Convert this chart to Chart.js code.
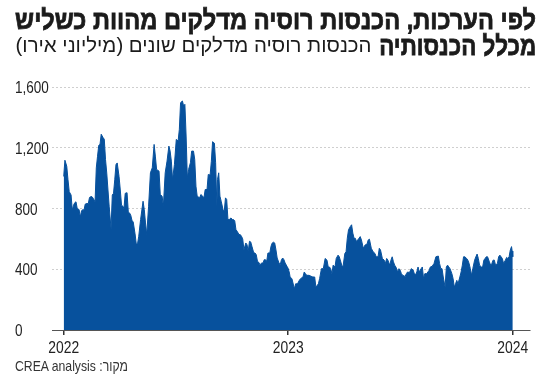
<!DOCTYPE html>
<html><head><meta charset="utf-8">
<script src="https://cdn.jsdelivr.net/npm/chart.js@4"></script>
<style>
html,body{margin:0;padding:0;background:#fff;}
#wrap{position:relative;width:550px;height:380px;overflow:hidden;background:#fff;}
#c{position:absolute;left:0;top:0;}
.t{position:absolute;direction:rtl;white-space:nowrap;color:#1b1b1b;font-family:"Liberation Sans","DejaVu Sans",sans-serif;line-height:1;transform-origin:100% 50%;}
.bold{font-size:27px;font-weight:700;-webkit-text-stroke:0.8px #1b1b1b;}
#t1{top:7px;right:14px;}
#t2{top:33px;right:14px;}
#t3{top:35px;right:178px;font-size:20px;font-weight:400;}
#src{position:absolute;left:15px;top:358px;direction:rtl;font-family:"Liberation Sans",sans-serif;font-size:15px;line-height:1;color:#333;white-space:nowrap;transform-origin:0 50%;}
</style></head>
<body><div id="wrap">
<canvas id="c" width="550" height="380"></canvas>
<div class="t bold" id="t1">לפי הערכות, הכנסות רוסיה מדלקים מהוות כשליש</div>
<div class="t bold" id="t2">מכלל הכנסותיה</div>
<div class="t" id="t3">הכנסות רוסיה מדלקים שונים (מיליוני אירו)</div>
<div id="src">מקור: CREA analysis</div>
</div>
<script>
// days since 1 Jan 2022
const days = [
 0,2,5,7,9,12,14,16,18,20,22,25,27,29,31,33,35,38,40,42,44,46,48,51,
 53,55,57,59,61,64,66,68,70,72,74,77,79,81,83,85,87,90,92,94,96,98,100,103,105,107,109,111,113,116,118,120,122,
 125,129,131,133,135,138,141,144,147,149,151,155,157,160,162,165,168,171,173,175,177,180,183,186,188,190,193,195,197,199,201,
 203,206,208,211,213,215,217,221,223,226,228,230,233,235,238,240,242,245,247,249,250,252,254,256,259,261,263,265,267,269,272,274,276,278,280,282,285,287,289,291,293,296,298,300,
 302,304,306,309,311,313,315,317,319,322,324,326,328,330,332,335,337,339,341,343,345,347,350,352,354,356,358,360,363,365,367,368,371,375,377,380,383,385,389,391,
 393,395,399,402,405,408,410,414,416,419,422,425,428,430,432,434,436,438,441,443,446,448,452,454,457,459,461,463,466,468,470,472,474,476,480,482,484,487,490,493,495,497,500,
 503,506,508,511,513,515,518,521,523,525,527,530,532,534,536,538,540,543,545,547,549,551,555,557,559,562,565,568,570,572,574,576,578,581,583,585,587,590,594,596,599,602,
 605,609,611,613,615,617,620,622,624,626,628,631,633,635,637,639,641,644,646,648,650,652,655,657,659,661,663,665,668,670,672,674,676,679,681,683,685,687,689,692,694,696,698,700,702,705,707,709,711,713,715,718,720,722,724,726,728,729,730
];
// fuel revenues, million euro
const revenues = [
 1011,1118,1078,989,911,889,789,822,838,844,800,793,744,784,793,789,829,833,833,873,878,878,867,844,
 1067,1144,1216,1222,1289,1267,1256,1122,1033,922,811,667,889,900,989,1089,1100,1011,922,822,816,800,900,904,778,771,756,722,711,633,567,567,617,
 727,848,793,705,628,815,1035,1068,1222,1145,1057,1046,892,881,815,1035,1112,1211,1178,1112,991,1090,1255,1244,1321,1497,1508,1475,1486,1277,1002,
 1057,1101,1178,1178,1123,947,881,870,892,881,870,925,925,1024,1020,1110,1240,1230,1101,815,991,1035,881,848,793,782,870,859,727,727,738,727,727,720,661,650,628,628,617,600,529,573,562,518,
 584,580,551,507,507,496,452,446,430,441,441,463,463,452,507,507,551,573,578,573,529,474,441,430,463,474,463,441,419,405,375,349,338,271,304,304,327,338,349,382,
 371,360,360,354,349,349,282,304,338,404,404,471,460,415,415,404,371,427,415,471,493,482,427,415,504,515,604,660,682,693,638,604,604,582,604,615,593,538,560,565,593,598,538,
 515,504,482,482,538,527,471,460,438,471,460,427,460,482,449,427,415,382,404,393,371,360,353,371,382,378,404,395,371,365,382,415,382,404,415,338,371,371,393,415,420,438,
 482,487,438,404,404,349,282,415,427,415,404,371,338,282,304,327,304,349,382,427,482,482,471,460,438,404,360,404,460,482,500,471,427,415,415,460,471,482,482,449,427,438,460,460,427,438,482,493,482,471,438,460,478,471,482,527,549,520,482
];
const tickDays = [0, 365, 730];
const tickLabels = ['2022', '2023', '2024'];
const yTicks = [0, 400, 800, 1200, 1600];

// fit texts horizontally (condensed look of the original typeface)
function fit(id, w) {
  const el = document.getElementById(id);
  const r = el.getBoundingClientRect().width;
  el.style.transform = 'scaleX(' + (w / r) + ')';
}
fit('t1', 521); fit('t2', 157); fit('t3', 356); fit('src', 113);

const points = days.map((d, i) => ({x: d, y: revenues[i]}));
const blue = '#07519d';
const labelFont = "'Liberation Sans', Arial, sans-serif";

// tick labels drawn condensed at the scales' own tick positions
const condensedLabels = {
  id: 'condensedLabels',
  afterDraw(chart) {
    const ctx = chart.ctx, xs = chart.scales.x, ys = chart.scales.y;
    ctx.save();
    ctx.fillStyle = '#222';
    ctx.textBaseline = 'middle';
    ctx.font = '16.5px ' + labelFont;
    ctx.textAlign = 'center';
    tickDays.forEach((d, i) => {
      ctx.save();
      ctx.translate(xs.getPixelForValue(d), xs.top + 18);
      ctx.scale(0.84, 1);
      ctx.fillText(tickLabels[i], 0, 0);
      ctx.restore();
    });
    ctx.textAlign = 'left';
    yTicks.forEach(v => {
      ctx.save();
      ctx.translate(15, ys.getPixelForValue(v) + 1.5);
      ctx.scale(0.82, 1);
      ctx.fillText(v.toLocaleString('en-US'), 0, 0);
      ctx.restore();
    });
    ctx.restore();
  }
};

new Chart(document.getElementById('c'), {
  type: 'line',
  data: { datasets: [{
    data: points, fill: 'origin', backgroundColor: blue, borderColor: blue,
    borderWidth: 1, pointRadius: 0, tension: 0
  }]},
  options: {
    responsive: false, animation: false,
    plugins: { legend: {display: false}, tooltip: {enabled: false} },
    layout: { padding: {left: 0, right: 20, top: 87, bottom: 0} },
    scales: {
      x: {
        type: 'linear', min: -19, max: 758,
        afterBuildTicks: s => { s.ticks = tickDays.map(v => ({value: v})); },
        afterFit: s => { s.height = 50; },
        ticks: { display: false },
        grid: { drawOnChartArea: false, drawTicks: true, tickLength: 5, color: '#333', lineWidth: 1.5 },
        border: { display: true, color: '#555', width: 1 }
      },
      y: {
        min: 0, max: 1600,
        afterBuildTicks: s => { s.ticks = yTicks.map(v => ({value: v})); },
        afterFit: s => { s.width = 52; },
        ticks: { display: false },
        grid: { color: '#cfcfcf', lineWidth: 1, drawTicks: false },
        border: { display: false, dash: [2, 2] }
      }
    }
  },
  plugins: [condensedLabels]
});
</script>
</body></html>
